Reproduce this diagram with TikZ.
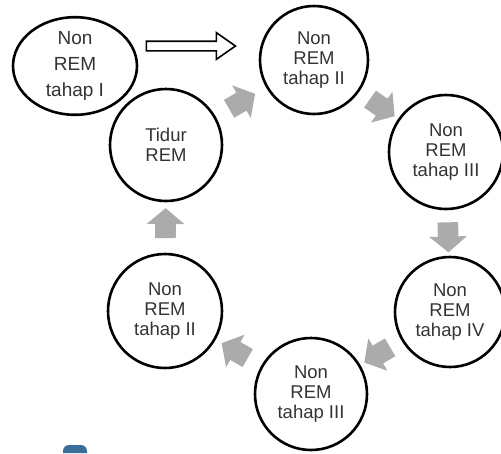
\documentclass[tikz,border=0pt]{standalone}
\usepackage{fontspec}
\setmainfont{Liberation Sans}
\usetikzlibrary{shapes.geometric, shapes.arrows}

\begin{document}
\begin{tikzpicture}[x=1pt, y=-1pt, line width=2.6pt,
    main/.style = {draw, circle, minimum size=112pt, inner sep=0pt, align=center, text=black!80, font=\fontsize{18.5}{20}\selectfont},
    grey/.style = {single arrow, fill=black!33, draw=none, minimum height=30pt, inner xsep=0pt, inner ysep=9pt, single arrow head extend=8.5pt, single arrow tip angle=100, sloped, allow upside down},
    hollow/.style = {single arrow, draw, fill=white, line width=1.6pt, minimum height=89pt, inner xsep=0pt, inner ysep=4pt, single arrow head extend=8.5pt, single arrow tip angle=70}]
    \useasboundingbox (0,0) rectangle (501,453);
    \node[main, ellipse, minimum width=124pt, minimum height=92pt, font=\fontsize{19}{26}\selectfont] (1) at (75,66) {Non\\REM\\tahap I};
    \node[main, minimum size=108pt] (2) at (314,60) {Non\\REM\\tahap II};
    \node[main, minimum size=114pt] (3) at (446,152) {Non\\REM\\tahap III};
    \node[main, minimum size=110pt] (4) at (450,312) {Non\\REM\\tahap IV};
    \node[main] (5) at (311,394) {Non\\REM\\tahap III};
    \node[main, minimum size=114pt] (6) at (165,311) {Non\\REM\\tahap II};
    \node[main] (7) at (166,145) {Tidur\\REM};
    \node[hollow] (a) at (187.5,46) {};
    \path (7) -- (2) node[grey, pos=0.45] {};
    \path (2) -- (3) node[grey, midway] {};
    \path (3) -- (4) node[grey, midway] {};
    \path (4) -- (5) node[grey, midway] {};
    \path (5) -- (6) node[grey, midway] {};
    \path (6) -- (7) node[grey, midway] {};
    \fill[color={rgb,255:red,58;green,109;blue,153}] (63,453) {[rounded corners=6pt] -- (63,445) -- (87,445)} -- (87,453) -- cycle;
\end{tikzpicture}
\end{document}
